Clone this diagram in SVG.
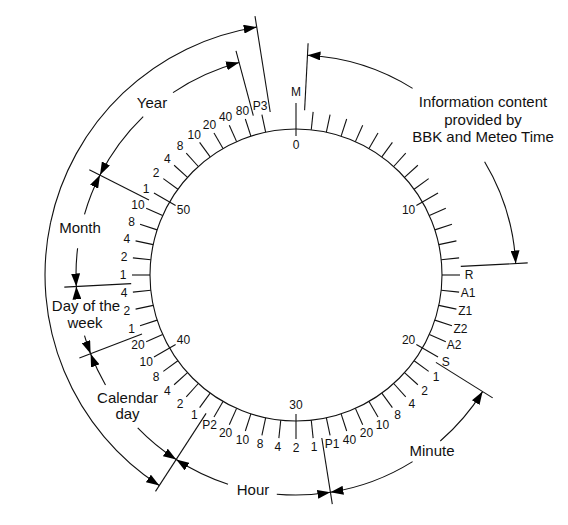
<svg xmlns="http://www.w3.org/2000/svg" width="568" height="525" viewBox="0 0 568 525">
<style>
.ln{stroke:#111;stroke-width:1.1;fill:none}
.tk line,.tk use{stroke:#111;stroke-width:1.1}
.lb{font-family:"Liberation Sans",Arial,sans-serif;font-size:12px;fill:#111;text-anchor:middle}
.tx{font-family:"Liberation Sans",Arial,sans-serif;font-size:15px;fill:#111;text-anchor:middle}
.ar{stroke:#111;stroke-width:1.1;fill:none;marker-end:url(#ah)}
</style>
<defs>
<marker id="ah" viewBox="0 0 13 9" refX="13" refY="4.5" markerWidth="13" markerHeight="9" markerUnits="userSpaceOnUse" orient="auto"><path d="M0,0L13,4.5L0,9z" fill="#000"/></marker>
<line id="t" x1="296" y1="129" x2="296" y2="111"/>
<line id="tl" x1="296" y1="136" x2="296" y2="111"/>
</defs>
<rect width="568" height="525" fill="#fff"/>

<g id="dial">
<circle cx="296" cy="275" r="146" class="ln"/>
<g class="tk">
<line x1="296" y1="136" x2="296" y2="103"/>
<use href="#t" transform="rotate(6 296 275)"/>
<use href="#t" transform="rotate(12 296 275)"/>
<use href="#t" transform="rotate(18 296 275)"/>
<use href="#t" transform="rotate(24 296 275)"/>
<use href="#t" transform="rotate(30 296 275)"/>
<use href="#t" transform="rotate(36 296 275)"/>
<use href="#t" transform="rotate(42 296 275)"/>
<use href="#t" transform="rotate(48 296 275)"/>
<use href="#t" transform="rotate(54 296 275)"/>
<use href="#tl" transform="rotate(60 296 275)"/>
<use href="#t" transform="rotate(66 296 275)"/>
<use href="#t" transform="rotate(72 296 275)"/>
<use href="#t" transform="rotate(78 296 275)"/>
<use href="#t" transform="rotate(84 296 275)"/>
<use href="#t" transform="rotate(90 296 275)"/>
<use href="#t" transform="rotate(96 296 275)"/>
<use href="#t" transform="rotate(102 296 275)"/>
<use href="#t" transform="rotate(108 296 275)"/>
<use href="#t" transform="rotate(114 296 275)"/>
<use href="#tl" transform="rotate(120 296 275)"/>
<use href="#t" transform="rotate(126 296 275)"/>
<use href="#t" transform="rotate(132 296 275)"/>
<use href="#t" transform="rotate(138 296 275)"/>
<use href="#t" transform="rotate(144 296 275)"/>
<use href="#t" transform="rotate(150 296 275)"/>
<use href="#t" transform="rotate(156 296 275)"/>
<use href="#t" transform="rotate(162 296 275)"/>
<use href="#t" transform="rotate(168 296 275)"/>
<use href="#t" transform="rotate(174 296 275)"/>
<use href="#tl" transform="rotate(180 296 275)"/>
<use href="#t" transform="rotate(186 296 275)"/>
<use href="#t" transform="rotate(192 296 275)"/>
<use href="#t" transform="rotate(198 296 275)"/>
<use href="#t" transform="rotate(204 296 275)"/>
<use href="#t" transform="rotate(210 296 275)"/>
<use href="#t" transform="rotate(216 296 275)"/>
<use href="#t" transform="rotate(222 296 275)"/>
<use href="#t" transform="rotate(228 296 275)"/>
<use href="#t" transform="rotate(234 296 275)"/>
<use href="#tl" transform="rotate(240 296 275)"/>
<use href="#t" transform="rotate(246 296 275)"/>
<use href="#t" transform="rotate(252 296 275)"/>
<use href="#t" transform="rotate(258 296 275)"/>
<use href="#t" transform="rotate(264 296 275)"/>
<use href="#t" transform="rotate(270 296 275)"/>
<use href="#t" transform="rotate(276 296 275)"/>
<use href="#t" transform="rotate(282 296 275)"/>
<use href="#t" transform="rotate(288 296 275)"/>
<use href="#t" transform="rotate(294 296 275)"/>
<use href="#tl" transform="rotate(300 296 275)"/>
<use href="#t" transform="rotate(306 296 275)"/>
<use href="#t" transform="rotate(312 296 275)"/>
<use href="#t" transform="rotate(318 296 275)"/>
<use href="#t" transform="rotate(324 296 275)"/>
<use href="#t" transform="rotate(330 296 275)"/>
<use href="#t" transform="rotate(336 296 275)"/>
<use href="#t" transform="rotate(342 296 275)"/>
<use href="#t" transform="rotate(348 296 275)"/>
</g>
<g class="lb">
<text x="296" y="96">M</text>
<text x="296" y="149">0</text>
<text x="408.6" y="214">10</text>
<text x="408.6" y="344">20</text>
<text x="296" y="409">30</text>
<text x="183.4" y="344">40</text>
<text x="183.4" y="214">50</text>
<text x="469" y="279">R</text>
<text x="468.1" y="297.1">A1</text>
<text x="465.2" y="315">Z1</text>
<text x="460.5" y="332.5">Z2</text>
<text x="454" y="349.4">A2</text>
<text x="445.8" y="365.5">S</text>
<text x="436" y="380.7">1</text>
<text x="424.6" y="394.8">2</text>
<text x="411.8" y="407.6">4</text>
<text x="397.7" y="419">8</text>
<text x="382.5" y="428.8">10</text>
<text x="366.4" y="437">20</text>
<text x="349.5" y="443.5">40</text>
<text x="332" y="448.2">P1</text>
<text x="314.1" y="451">1</text>
<text x="296" y="452">2</text>
<text x="277.9" y="451">4</text>
<text x="260" y="448.2">8</text>
<text x="242.5" y="443.5">10</text>
<text x="225.6" y="437">20</text>
<text x="209.5" y="428.8">P2</text>
<text x="194.3" y="419">1</text>
<text x="180.2" y="407.6">2</text>
<text x="167.4" y="394.8">4</text>
<text x="156" y="380.7">8</text>
<text x="146.2" y="365.5">10</text>
<text x="138" y="349.4">20</text>
<text x="131.5" y="332.5">1</text>
<text x="126.8" y="315">2</text>
<text x="124" y="297.1">4</text>
<text x="123" y="279">1</text>
<text x="124" y="260.9">2</text>
<text x="126.8" y="243">4</text>
<text x="131.5" y="225.5">8</text>
<text x="138" y="208.6">10</text>
<text x="146.2" y="192.5">1</text>
<text x="156" y="177.3">2</text>
<text x="167.4" y="163.2">4</text>
<text x="180.2" y="150.4">8</text>
<text x="194.3" y="139">10</text>
<text x="209.5" y="129.2">20</text>
<text x="225.6" y="121">40</text>
<text x="242.5" y="114.5">80</text>
<text x="260" y="109.8">P3</text>
</g>
</g>

<g id="connectors">
<g id="boundaries" class="ln">
<line x1="304.6" y1="110.2" x2="308.1" y2="43.3"/>
<line x1="460.8" y1="266.4" x2="527.7" y2="262.9"/>
<line x1="435.9" y1="362.4" x2="492.7" y2="397.9"/>
<line x1="321.8" y1="438" x2="332.3" y2="504.1"/>
<line x1="206.1" y1="413.4" x2="155.5" y2="491.4"/>
<line x1="142" y1="334.1" x2="79.4" y2="358.1"/>
<line x1="131.2" y1="283.6" x2="64.3" y2="287.1"/>
<line x1="149" y1="200.1" x2="89.3" y2="169.7"/>
<line x1="253.3" y1="115.6" x2="236" y2="50.9"/>
<line x1="270.2" y1="112" x2="255" y2="16.2"/>
</g>
<g id="arrows">
<path class="ar" d="M412.6,88.4A220,220 0 0 0 307.5,55.3"/>
<path class="ar" d="M484.6,161.7A220,220 0 0 1 515.7,263.5"/>
<path class="ar" d="M412.6,461.6A220,220 0 0 1 330.4,492.3"/>
<path class="ar" d="M440.3,441A220,220 0 0 0 482.6,391.6"/>
<path class="ar" d="M276.8,494.2A220,220 0 0 0 330.4,492.3"/>
<path class="ar" d="M228,484.2A220,220 0 0 1 176.2,459.5"/>
<path class="ar" d="M137.7,427.8A220,220 0 0 0 176.2,459.5"/>
<path class="ar" d="M105.5,385A220,220 0 0 1 90.6,353.8"/>
<path class="ar" d="M84.5,335.6A220,220 0 0 0 90.6,353.8"/>
<path class="ar" d="M77.2,298A220,220 0 0 1 76.3,286.5"/>
<path class="ar" d="M77.6,248.2A220,220 0 0 0 76.3,286.5"/>
<path class="ar" d="M84.5,214.4A220,220 0 0 1 100,175.1"/>
<path class="ar" d="M143.2,116.7A220,220 0 0 0 100,175.1"/>
<path class="ar" d="M173,92.6A220,220 0 0 1 239.1,62.5"/>
<path class="ar" d="M50.5,222.8A251,251 0 0 0 159.3,485.5"/>
<path class="ar" d="M50.5,222.8A251,251 0 0 1 256.7,27.1"/>
</g>
</g>

<g id="info"><text class="tx" x="483" y="107">Information content</text><text class="tx" x="483" y="124.5">provided by</text><text class="tx" x="483" y="142">BBK and Meteo Time</text></g>
<g id="minute"><text class="tx" x="432" y="456">Minute</text></g>
<g id="hour"><text class="tx" x="253" y="495">Hour</text></g>
<g id="calendar-day"><text class="tx" x="127.5" y="403">Calendar</text><text class="tx" x="127.5" y="419">day</text></g>
<g id="day-of-week"><text class="tx" x="86" y="311">Day of the</text><text class="tx" x="85" y="328">week</text></g>
<g id="month"><text class="tx" x="80" y="233">Month</text></g>
<g id="year"><text class="tx" x="152" y="108">Year</text></g>
</svg>
